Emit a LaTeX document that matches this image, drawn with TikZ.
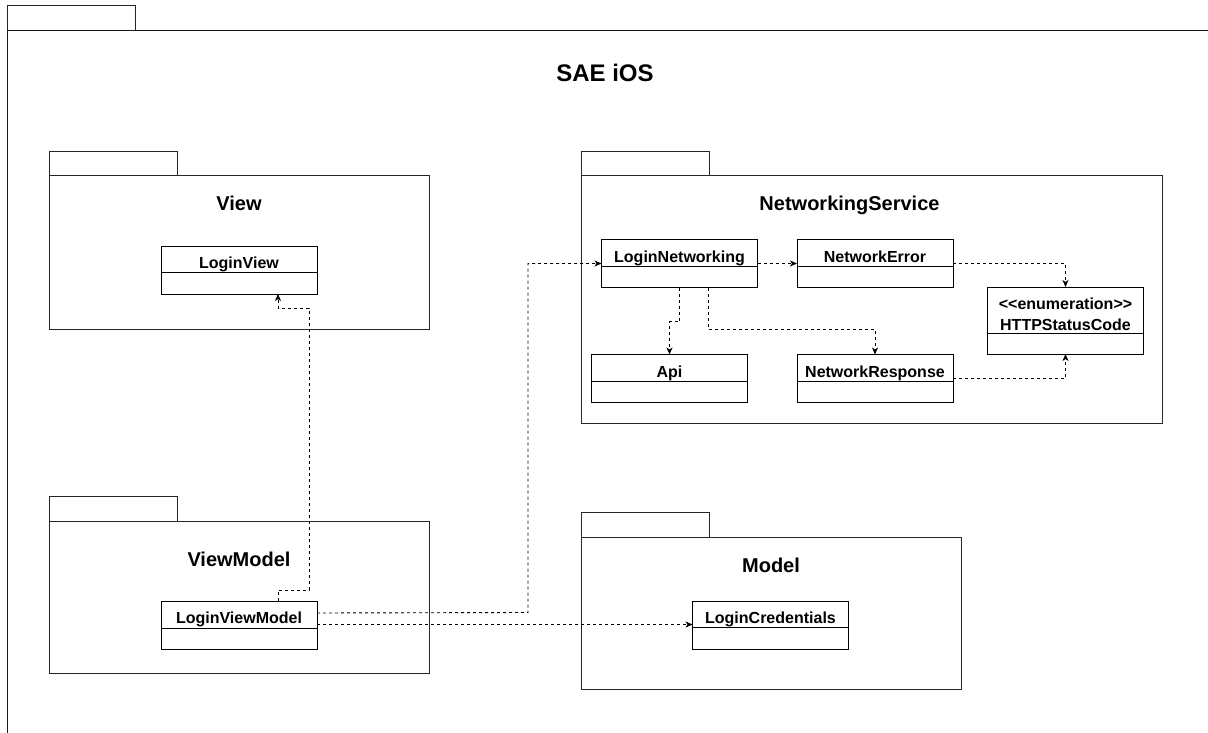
\documentclass[tikz,border=0pt]{standalone}
\usepackage{fontspec}
\setmainfont{Liberation Sans}
\usetikzlibrary{calc,arrows.meta}
\tikzset{
  pkg/.style={draw=black!85, line width=1pt, inner sep=0pt, outer sep=0pt, anchor=north west},
  pkgline/.style={draw=black!90, line width=1pt},
  clsbox/.style={draw=black, line width=1pt, inner sep=0pt, outer sep=0pt, minimum width=156, anchor=north west, fill=white},
  clsline/.style={draw=black, line width=0.9pt},
  clsname/.style={font=\fontsize{16}{19}\selectfont\bfseries, anchor=base, inner sep=0pt},
  pkgtitle/.style={font=\fontsize{20}{24}\selectfont\bfseries, anchor=base, inner sep=0pt},
  maintitle/.style={font=\fontsize{24}{28}\selectfont\bfseries, anchor=base, inner sep=0pt},
  dep/.style={draw=black, line width=0.9pt, dash pattern=on 3pt off 3pt, -{Stealth[length=7pt,width=6pt,inset=2pt]}},
}
\newcommand{\umlclass}[7]{%
  \node[clsbox, minimum height=#4] (#1) at (#2,#3) {};
  \draw[clsline] ($(#1.north west)+(0,#5)$) -- ($(#1.north east)+(0,#5)$);
  \node[clsname] (#1-name) at ($(#1.north)+(0,#7)$) {#6};
}
\begin{document}
\begin{tikzpicture}[x=1pt,y=-1pt]
\useasboundingbox (0,0) rectangle (1208,733);

% outer package
\node[pkg, minimum width=128, minimum height=25] (outerTab) at (7.5,5.5) {};
\coordinate (outerBL) at (7.5,740);
\coordinate (outerTR) at (1215,30.5);
\draw[pkgline] (outerBL) -- (outerTab.south west) -- (outerTR);
\node[maintitle] (title) at (605,82) {SAE iOS};

% View package
\node[pkg, minimum width=128, minimum height=24] (viewTab) at (49,152) {};
\node[pkg, minimum width=380, minimum height=153] (view) at (49,176) {};
\node[pkgtitle] (viewT) at (239,211) {View};

% ViewModel package
\node[pkg, minimum width=128, minimum height=25] (vmTab) at (49,496) {};
\node[pkg, minimum width=380, minimum height=152] (vm) at (49,521) {};
\node[pkgtitle] (vmT) at (239,566) {ViewModel};

% NetworkingService package
\node[pkg, minimum width=128, minimum height=24] (nsTab) at (581,152) {};
\node[pkg, minimum width=581, minimum height=247] (ns) at (581,176) {};
\node[pkgtitle] (nsT) at (849.5,211) {NetworkingService};

% Model package
\node[pkg, minimum width=128, minimum height=25] (mTab) at (581,512) {};
\node[pkg, minimum width=380, minimum height=152] (model) at (581,537) {};
\node[pkgtitle] (mT) at (771,572) {Model};

% classes
\umlclass{lv}{161}{246}{48}{26.5}{LoginView}{22.5}
\umlclass{lvm}{161}{601}{48}{27}{LoginViewModel}{22}
\umlclass{ln}{601.5}{239.5}{48}{27}{LoginNetworking}{22.5}
\umlclass{ne}{797}{239.5}{48}{27}{NetworkError}{22.5}
\umlclass{api}{591.5}{354.5}{48}{27}{Api}{22.5}
\umlclass{nr}{797}{354.5}{48}{27}{NetworkResponse}{22.5}
\umlclass{lc}{692.5}{601}{48}{26.5}{LoginCredentials}{22.5}

\node[clsbox, minimum height=67] (http) at (987.5,287) {};
\draw[clsline] ($(http.north west)+(0,46.5)$) -- ($(http.north east)+(0,46.5)$);
\node[clsname] (http-st) at ($(http.north)+(0,22.5)$) {<{}<enumeration>{}>};
\node[clsname] (http-name) at ($(http.north)+(0,43)$) {HTTPStatusCode};

% dependencies
\draw[dep] ($(lvm.north west)+(117,0)$) -- ++(0,-11) -| (309,308) -| ($(lv.south west)+(117,0)$);
\draw[dep] ($(lvm.north east)+(0,12)$) -- (528,612.5) |- ($(ln.north west)+(0,24)$);
\draw[dep] ($(lvm.north east)+(0,23.5)$) -- ($(lc.north west)+(0,23.5)$);
\draw[dep] ($(ln.north east)+(0,24)$) -- ($(ne.north west)+(0,24)$);
\draw[dep] (ln.south) -- ++(0,34) -| (api.north);
\draw[dep] ($(ln.south)+(29,0)$) -- ++(0,42) -| (nr.north);
\draw[dep] ($(ne.north east)+(0,24)$) -| (http.north);
\draw[dep] ($(nr.north east)+(0,23.5)$) -| (http.south);
\end{tikzpicture}
\end{document}
